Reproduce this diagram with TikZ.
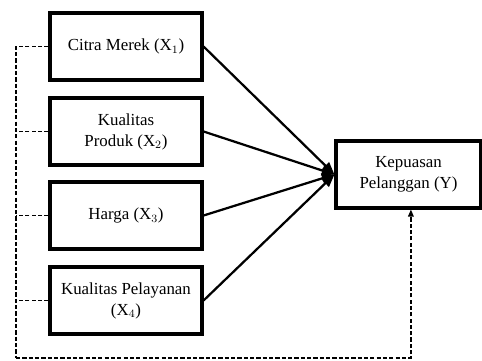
\documentclass[tikz,border=0pt]{standalone}
\usepackage{fontspec}
\setmainfont{Liberation Serif}
\usetikzlibrary{arrows.meta}

\tikzset{
    varbox/.style={draw, line width=2.2pt, minimum width=3.8cm, minimum height=1.675cm,
        align=center, font=\fontsize{12}{15}\selectfont, inner sep=2pt},
    effect/.style={line width=1.6pt, -{Triangle[length=9pt,width=7pt]}},
    joint/.style={dash pattern=on 3pt off 1.5pt, line width=1pt}
}

\begin{document}
\begin{tikzpicture}

        \useasboundingbox (0,0) rectangle (12.05,-9);

        % Independent variables
        \node[varbox] (x1) at (3.15,-1.1625) {Citra Merek (X$_1$)};
        \node[varbox] (x2) at (3.15,-3.2875) {Kualitas\\Produk (X$_2$)};
        \node[varbox] (x3) at (3.15,-5.3875) {Harga (X$_3$)};
        \node[varbox] (x4) at (3.15,-7.5125) {Kualitas Pelayanan\\(X$_4$)};

        % Dependent variable
        \node[varbox, minimum width=3.625cm] (y) at (10.2125,-4.3625) {Kepuasan\\Pelanggan (Y)};

        % Partial effects
        \draw[effect] (x1.east) -- (y.west);
        \draw[effect] (x2.east) -- (y.west);
        \draw[effect] (x3.east) -- (y.west);
        \draw[effect] (x4.east) -- (y.west);

        % Joint effect (dashed)
        \coordinate (bus) at (0.4,-8.95);
        \coordinate (yin) at ([xshift=0.06cm]y.south);
        \draw[joint] (x1.west) -| (bus);
        \draw[joint] (x2.west) -- (x2.west -| bus);
        \draw[joint] (x3.west) -- (x3.west -| bus);
        \draw[joint] (x4.west) -- (x4.west -| bus);
        \draw[joint, -{Triangle[length=5pt,width=4pt]}] (bus) -| (yin);

    \end{tikzpicture}
\end{document}
